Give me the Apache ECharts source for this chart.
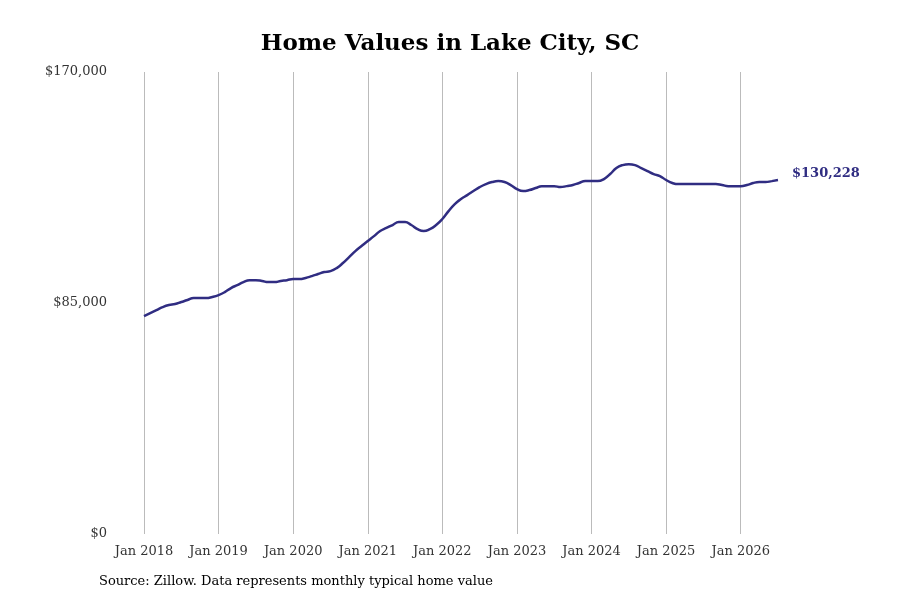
<!DOCTYPE html>
<html>
<head>
<meta charset="utf-8">
<script src="https://cdn.jsdelivr.net/npm/echarts@6/dist/echarts.min.js"></script>
<style>body{margin:0}#main{width:900px;height:600px}</style>
</head>
<body>
<div id="main"></div>
<script>
var years = [2018, 2019, 2020, 2021, 2022, 2023, 2024, 2025, 2026];
var months = ['Jan','Feb','Mar','Apr','May','Jun','Jul','Aug','Sep','Oct','Nov','Dec'];
var values = [
  80200, 81300, 82400, 83500, 84250, 84600, 85350, 86100, 86800, 86800, 86800, 87200,
  87900, 89000, 90500, 91600, 92700, 93400, 93400, 93100, 92700, 92700, 93100, 93400,
  93800, 93800, 94200, 94900, 95650, 96400, 96750, 97850, 99700, 101900, 104100, 105950,
  107800, 109600, 111500, 112600, 113700, 114800, 114800, 113700, 112200, 111500, 112200, 113700,
  115900, 118800, 121400, 123250, 124700, 126200, 127650, 128750, 129500, 129850, 129500, 128400,
  126900, 126200, 126550, 127300, 128000, 128000, 128000, 127650, 128000, 128400, 129150, 129850,
  129850, 129850, 130600, 132450, 134650, 135750, 136100, 135750, 134650, 133550, 132450, 131700,
  130250, 129150, 128750, 128750, 128750, 128750, 128750, 128750, 128750, 128400, 128000, 128000,
  128000, 128400, 129150, 129500, 129500, 129850, 130228
];
var yTicks = [0, 85000, 170000];

var categories = [];
years.forEach(function (y) {
  months.forEach(function (m) { categories.push(m + ' ' + y); });
});
categories = categories.slice(0, values.length);

var serif = '"DejaVu Serif", "Liberation Serif", serif';
var isJan = function (i) { return i % 12 === 0; };

var chart = echarts.init(document.getElementById('main'));
chart.setOption({
  title: {
    text: 'Home Values in Lake City, SC',
    left: 'center', top: 28,
    textStyle: { fontFamily: serif, fontSize: 23, fontWeight: 'bold', color: '#000' }
  },
  graphic: [{
    type: 'text', left: 99, top: 575,
    style: { text: 'Source: Zillow. Data represents monthly typical home value', font: '13px ' + serif, fill: '#000' }
  }],
  grid: { left: 144, right: 122, top: 72, bottom: 66 },
  xAxis: {
    type: 'category', data: categories, boundaryGap: false,
    axisLine: { show: false }, axisTick: { show: false },
    axisLabel: { interval: isJan, fontFamily: serif, fontSize: 13, color: '#333', margin: 11 },
    splitLine: { show: true, interval: isJan, lineStyle: { color: '#bbb', width: 1 } }
  },
  yAxis: {
    type: 'value', min: yTicks[0], max: yTicks[2], interval: 85000,
    axisLine: { show: false }, axisTick: { show: false }, splitLine: { show: false },
    axisLabel: {
      fontFamily: serif, fontSize: 13, color: '#333', margin: 37,
      formatter: function (v) { return '$' + v.toLocaleString('en-US'); }
    }
  },
  series: [{
    type: 'line', data: values, smooth: true, showSymbol: false,
    lineStyle: { color: '#302d82', width: 2.5 },
    endLabel: {
      show: true, distance: 14, offset: [0, -6], fontFamily: serif, fontSize: 13, fontWeight: 'bold', color: '#302d82',
      formatter: function (p) { return '$' + p.value.toLocaleString('en-US'); }
    }
  }],
  animation: false
});
</script>
</body>
</html>
